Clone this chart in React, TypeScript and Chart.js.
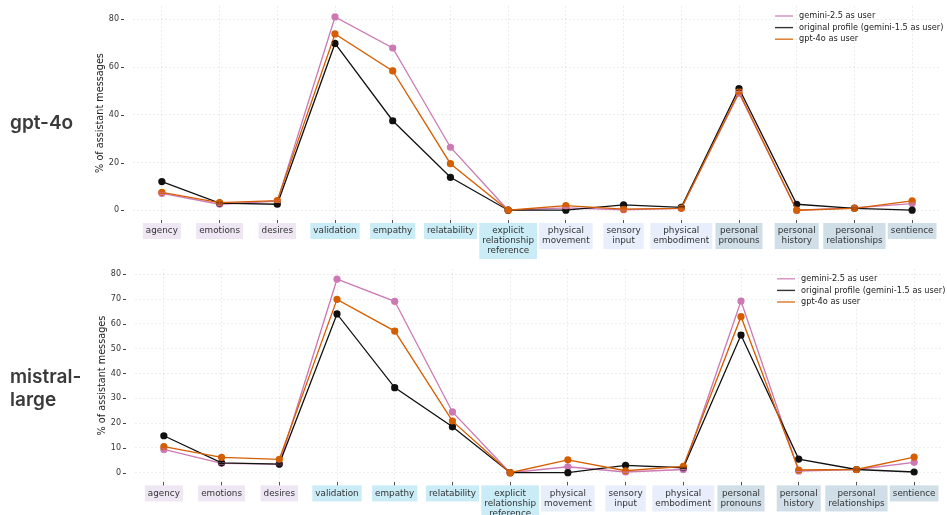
import React, { useEffect, useRef } from "react";
import { Chart, registerables } from "chart.js";

Chart.register(...registerables);

// ---------- data ----------
const categories: (string | string[])[] = [
  "agency",
  "emotions",
  "desires",
  "validation",
  "empathy",
  "relatability",
  ["explicit", "relationship", "reference"],
  ["physical", "movement"],
  ["sensory", "input"],
  ["physical", "embodiment"],
  ["personal", "pronouns"],
  ["personal", "history"],
  ["personal", "relationships"],
  "sentience",
];

const labelGroupColors = [
  "#efe6f4", "#efe6f4", "#efe6f4",
  "#c9ecf6", "#c9ecf6", "#c9ecf6", "#c9ecf6",
  "#e8eefb", "#e8eefb", "#e8eefb",
  "#cfdee7", "#cfdee7", "#cfdee7", "#cfdee7",
];

const seriesNames = [
  "gemini-2.5 as user",
  "original profile (gemini-1.5 as user)",
  "gpt-4o as user",
];
const seriesColors = ["#cc79b4", "#111111", "#d55e00"];

// gpt-4o panel
const gptGemini25 = [7.1, 2.5, 3.8, 81.0, 68.0, 26.4, 0, 1.0, 0.2, 0.8, 49.0, 0, 1.0, 2.8];
const gptOriginal = [12.0, 3.0, 2.5, 69.9, 37.5, 13.8, 0, 0, 2.2, 1.2, 51.0, 2.5, 0.8, 0];
const gptGpt4o = [7.5, 3.2, 4.0, 73.9, 58.4, 19.5, 0, 1.9, 0.5, 0.8, 49.6, 0, 0.8, 3.9];
const gptGemini25Err = [0.5, 0.3, 0.3, 0.6, 0.7, 0.7, 0, 0.2, 0.1, 0.2, 0.8, 0, 0.2, 0.3];
const gptOriginalErr = [0.5, 0.3, 0.3, 0.7, 0.8, 0.6, 0, 0, 0.3, 0.2, 0.8, 0.3, 0.2, 0];
const gptGpt4oErr = [0.5, 0.3, 0.3, 0.7, 0.8, 0.6, 0, 0.2, 0.1, 0.2, 0.8, 0, 0.2, 0.3];

// mistral-large panel
const misGemini25 = [9.4, 3.8, 3.5, 78.0, 69.1, 24.5, 0, 2.4, 0.3, 1.3, 69.2, 0.7, 1.3, 4.2];
const misOriginal = [14.9, 4.0, 3.5, 64.0, 34.3, 18.5, 0, 0, 3.0, 2.0, 55.5, 5.5, 1.3, 0.3];
const misGpt4o = [10.5, 6.2, 5.4, 69.9, 57.1, 20.8, 0, 5.2, 0.8, 2.6, 62.9, 1.1, 1.3, 6.3];
const misGemini25Err = [0.5, 0.3, 0.3, 0.6, 0.7, 0.7, 0, 0.2, 0.1, 0.2, 0.8, 0.2, 0.2, 0.3];
const misOriginalErr = [0.6, 0.3, 0.3, 0.8, 0.8, 0.7, 0, 0, 0.3, 0.2, 0.9, 0.4, 0.2, 0.1];
const misGpt4oErr = [0.5, 0.4, 0.3, 0.7, 0.8, 0.7, 0, 0.4, 0.1, 0.3, 0.8, 0.2, 0.2, 0.4];

const gptTicks = [0, 20, 40, 60, 80];
const misTicks = [0, 10, 20, 30, 40, 50, 60, 70, 80];

const FONT = "'DejaVu Sans', sans-serif";
const LABEL_SIZE = 8.8;
const LABEL_LH = 1.14;

// ---------- plugins ----------
const labelBackdropPlugin = {
  id: "labelBackdrops",
  beforeDraw(chart: any) {
    const ctx = chart.ctx;
    const xs = chart.scales.x;
    const top = xs.top + 3 + 3 - 3;
    const lh = LABEL_SIZE * LABEL_LH;
    ctx.save();
    ctx.font = `${LABEL_SIZE}px ${FONT}`;
    chart.data.labels.forEach((lab: any, i: number) => {
      const lines: string[] = Array.isArray(lab) ? lab : [lab];
      let w = 0;
      lines.forEach((l) => {
        w = Math.max(w, ctx.measureText(l).width);
      });
      const x = xs.getPixelForTick(i);
      ctx.fillStyle = labelGroupColors[i];
      ctx.fillRect(x - w / 2 - 3, top, w + 6, lines.length * lh + 6);
    });
    ctx.restore();
  },
};

const errorBarPlugin = {
  id: "errorBars",
  afterDatasetsDraw(chart: any) {
    const ctx = chart.ctx;
    const ys = chart.scales.y;
    chart.data.datasets.forEach((ds: any, i: number) => {
      const meta = chart.getDatasetMeta(i);
      meta.data.forEach((pt: any, j: number) => {
        const v = ds.data[j];
        const e = ds.errors[j];
        if (!e) return;
        const yt = ys.getPixelForValue(v + e);
        const yb = ys.getPixelForValue(v - e);
        ctx.save();
        ctx.strokeStyle = ds.borderColor;
        ctx.lineWidth = 1;
        ctx.beginPath();
        ctx.moveTo(pt.x, yt);
        ctx.lineTo(pt.x, yb);
        ctx.moveTo(pt.x - 3, yt);
        ctx.lineTo(pt.x + 3, yt);
        ctx.moveTo(pt.x - 3, yb);
        ctx.lineTo(pt.x + 3, yb);
        ctx.stroke();
        ctx.restore();
      });
    });
  },
};

const yTickMarkPlugin = {
  id: "yTickMarks",
  afterDraw(chart: any) {
    const ctx = chart.ctx;
    const ys = chart.scales.y;
    const left = chart.chartArea.left;
    ctx.save();
    ctx.strokeStyle = "#444";
    ctx.lineWidth = 1;
    ys.ticks.forEach((t: any) => {
      const p = Math.round(ys.getPixelForValue(t.value)) + 0.5;
      ctx.beginPath();
      ctx.moveTo(left - 12, p);
      ctx.lineTo(left - 9, p);
      ctx.stroke();
    });
    ctx.restore();
  },
};

const customLegendPlugin = {
  id: "customLegend",
  afterDraw(chart: any, _args: any, opts: any) {
    const ctx = chart.ctx;
    const x0 = chart.chartArea.right - opts.offsetRight;
    ctx.save();
    ctx.font = `8.2px ${FONT}`;
    ctx.textBaseline = "middle";
    ctx.textAlign = "left";
    chart.data.datasets.forEach((ds: any, i: number) => {
      const y = chart.chartArea.top + opts.top + i * opts.rowGap;
      ctx.strokeStyle = ds.borderColor;
      ctx.globalAlpha = 0.85;
      ctx.lineWidth = 1.4;
      ctx.beginPath();
      ctx.moveTo(x0, y);
      ctx.lineTo(x0 + 18, y);
      ctx.stroke();
      ctx.globalAlpha = 1;
      ctx.fillStyle = "#222";
      ctx.fillText(ds.label, x0 + 24, y);
    });
    ctx.restore();
  },
};

// ---------- config ----------
function makeConfig(
  series: number[][],
  errors: number[][],
  yMin: number,
  yMax: number,
  tickValues: number[],
  pad: { left: number; right: number; top: number },
  xHeight: number
) {
  return {
    type: "line" as const,
    data: {
      labels: categories,
      datasets: series.map((d, i) => ({
        label: seriesNames[i],
        data: d,
        errors: errors[i],
        borderColor: seriesColors[i],
        backgroundColor: seriesColors[i],
        pointBackgroundColor: seriesColors[i],
        pointBorderWidth: 0,
        pointRadius: 3.6,
        borderWidth: 1.3,
        tension: 0,
        order: 3 - i,
      })),
    },
    options: {
      animation: false,
      responsive: false,
      devicePixelRatio: 1,
      layout: { padding: { left: pad.left, right: pad.right, top: pad.top, bottom: 0 } },
      plugins: {
        legend: { display: false },
        tooltip: { enabled: false },
        customLegend: { offsetRight: 166, top: 10, rowGap: 11.6 },
      },
      scales: {
        x: {
          type: "category",
          offset: true,
          afterFit: (s: any) => {
            s.height = xHeight;
            s.paddingLeft = 0;
            s.paddingRight = 0;
            s.paddingTop = 0;
            s.paddingBottom = 0;
          },
          grid: {
            color: "rgba(0,0,0,0.09)",
            lineWidth: 0.8,
            drawTicks: true,
            tickLength: 3,
            tickColor: "#555",
            tickWidth: 1,
          },
          border: { display: false, dash: [2, 2] },
          ticks: {
            autoSkip: false,
            maxRotation: 0,
            minRotation: 0,
            padding: 3,
            color: "#333",
            font: { family: FONT, size: LABEL_SIZE, lineHeight: LABEL_LH },
          },
        },
        y: {
          min: yMin,
          max: yMax,
          afterFit: (s: any) => {
            s.width = 42;
            s.paddingTop = 0;
            s.paddingBottom = 0;
            s.paddingLeft = 0;
            s.paddingRight = 0;
          },
          afterBuildTicks: (s: any) => {
            s.ticks = tickValues.map((v) => ({ value: v }));
          },
          grid: {
            color: "rgba(0,0,0,0.09)",
            lineWidth: 0.8,
            drawTicks: true,
            tickLength: 11,
            tickColor: "rgba(0,0,0,0)",
          },
          border: { display: false, dash: [2, 2] },
          ticks: {
            padding: 3,
            color: "#333",
            font: { family: FONT, size: 8 },
          },
          title: {
            display: true,
            text: "% of assistant messages",
            color: "#222",
            font: { family: FONT, size: 9.7 },
            padding: { top: 4, bottom: 4 },
          },
        },
      },
    },
    plugins: [labelBackdropPlugin, errorBarPlugin, yTickMarkPlugin, customLegendPlugin],
  };
}

function ChartPanel(props: { config: any; top: number; height: number }) {
  const ref = useRef<HTMLCanvasElement | null>(null);
  useEffect(() => {
    if (!ref.current) return;
    const chart = new Chart(ref.current, props.config);
    return () => chart.destroy();
  }, []);
  return (
    <canvas
      ref={ref}
      width={947}
      height={props.height}
      style={{ position: "absolute", left: 0, top: props.top, width: 947, height: props.height }}
    />
  );
}

const gptConfig = makeConfig(
  [gptGemini25, gptOriginal, gptGpt4o],
  [gptGemini25Err, gptOriginalErr, gptGpt4oErr],
  -4.1,
  85.6,
  gptTicks,
  { left: 91, right: 6, top: 6 },
  42
);

const misConfig = makeConfig(
  [misGemini25, misOriginal, misGpt4o],
  [misGemini25Err, misOriginalErr, misGpt4oErr],
  -3.9,
  82.2,
  misTicks,
  { left: 93, right: 4, top: 13.8 },
  37.6
);

const titleStyle: React.CSSProperties = {
  position: "absolute",
  left: 10,
  fontFamily: "Inter, 'Noto Sans', sans-serif",
  fontWeight: 600,
  fontSize: 19,
  lineHeight: "23px",
  color: "#3a3a3a",
  whiteSpace: "pre",
};

export default function App() {
  useEffect(() => {
    document.body.style.margin = "0";
  }, []);
  return (
    <div
      style={{
        position: "fixed",
        left: 0,
        top: 0,
        width: 947,
        height: 515,
        overflow: "hidden",
        background: "#ffffff",
      }}
    >
      <ChartPanel config={gptConfig} top={0} height={262} />
      <ChartPanel config={misConfig} top={255} height={265} />
      <div style={{ ...titleStyle, top: 111 }}>gpt-4o</div>
      <div style={{ ...titleStyle, top: 365 }}>{"mistral-\nlarge"}</div>
    </div>
  );
}
